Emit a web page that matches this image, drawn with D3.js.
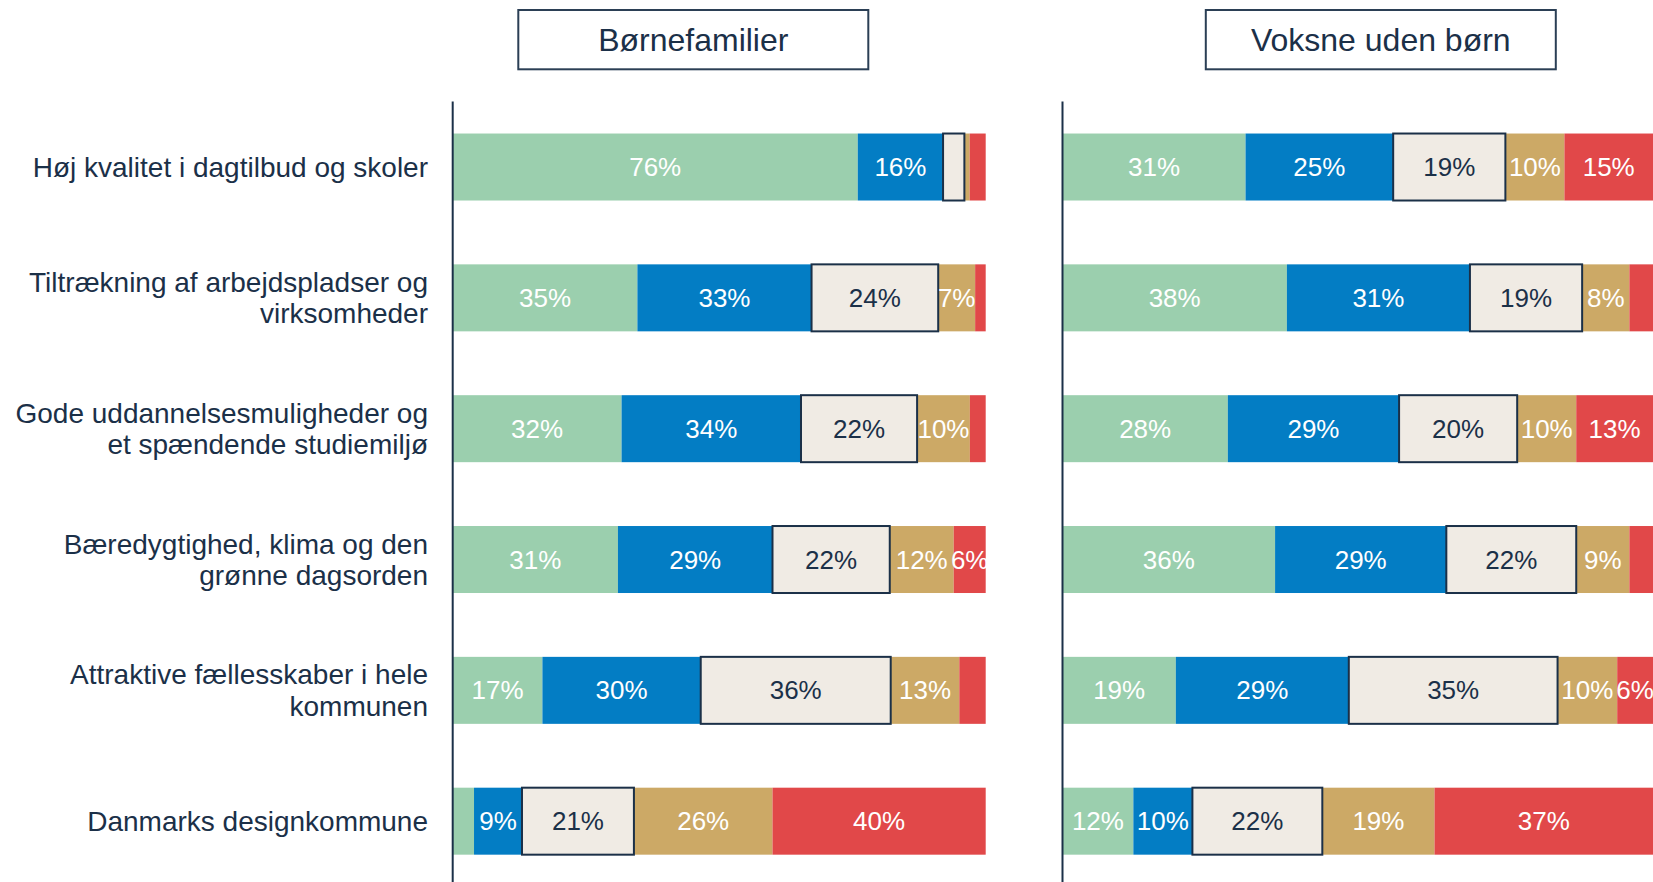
<!DOCTYPE html>
<html>
<head>
<meta charset="utf-8">
<script src="https://cdn.jsdelivr.net/npm/d3@7"></script>
<style>
    html, body { margin: 0; padding: 0; background: #fff; }
    svg { display: block; font-family: "Liberation Sans", Arial, sans-serif; }
</style>
</head>
<body>
<svg id="chart"></svg>
<script>
// categories (rows), top to bottom
const categories = [
    "Høj kvalitet i dagtilbud og skoler",
    "Tiltrækning af arbejdspladser og\nvirksomheder",
    "Gode uddannelsesmuligheder og\net spændende studiemiljø",
    "Bæredygtighed, klima og den\ngrønne dagsorden",
    "Attraktive fællesskaber i hele\nkommunen",
    "Danmarks designkommune"
];

// stacked series, left to right
const seriesKeys = ["s1", "s2", "s3", "s4", "s5"];

const panelTitles = ["Børnefamilier", "Voksne uden børn"];

// percentages per row, in seriesKeys order
const borneValues = [
    [76, 16, 4, 1, 3],
    [35, 33, 24, 7, 2],
    [32, 34, 22, 10, 3],
    [31, 29, 22, 12, 6],
    [17, 30, 36, 13, 5],
    [4, 9, 21, 26, 40]
];
const voksneValues = [
    [31, 25, 19, 10, 15],
    [38, 31, 19, 8, 4],
    [28, 29, 20, 10, 13],
    [36, 29, 22, 9, 4],
    [19, 29, 35, 10, 6],
    [12, 10, 22, 19, 37]
];

const config = {
    vw: 1653,
    vh: 882,
    navy: "#1b3048",
    colors: ["#9bcfae", "#037dc4", "#f0ebe4", "#cca966", "#e14849"],
    labelColors: ["#fff", "#fff", "#1b3048", "#fff", "#fff"],
    minLabel: 6
};

const panels = [
    { title: panelTitles[0], values: borneValues, x0: 452.7, x1: 985.7, titleX: 693.3 },
    { title: panelTitles[1], values: voksneValues, x0: 1062.5, x1: 1653, titleX: 1380.8 }
];

const svg = d3.select("#chart")
    .attr("width", config.vw)
    .attr("height", config.vh)
    .attr("viewBox", [0, 0, config.vw, config.vh]);

const yScale = d3.scaleBand()
    .domain(categories)
    .range([101.6, 886.6])
    .paddingInner(0.488)
    .paddingOuter(0.244);

// category labels
const catG = svg.append("g").attr("class", "categories");
categories.forEach(cat => {
    const lines = cat.split("\n");
    const cy = yScale(cat) + yScale.bandwidth() / 2;
    const lh = 31.6;
    const t = catG.append("text")
        .attr("text-anchor", "end")
        .attr("font-size", 28)
        .attr("fill", config.navy);
    lines.forEach((ln, i) => {
        t.append("tspan")
            .attr("x", 428)
            .attr("y", cy + (i - (lines.length - 1) / 2) * lh)
            .attr("dy", "0.35em")
            .text(ln);
    });
});

const renderPanel = (panel) => {
    const g = svg.append("g").attr("class", "panel");

    const xScale = d3.scaleLinear()
        .domain([0, 100])
        .range([panel.x0, panel.x1]);

    // 100% stacked: normalize each row to its own total
    const rows = panel.values.map((vals, i) => {
        const total = d3.sum(vals);
        let acc = 0;
        return vals.map((v, j) => {
            const start = acc;
            acc += v / total * 100;
            return { cat: categories[i], key: seriesKeys[j], idx: j, value: v, p0: start, p1: acc };
        });
    });
    const segs = rows.flat();

    g.selectAll("rect.seg")
        .data(segs)
        .join("rect")
        .attr("class", "seg")
        .attr("x", d => xScale(d.p0))
        .attr("y", d => yScale(d.cat))
        .attr("width", d => xScale(d.p1) - xScale(d.p0))
        .attr("height", yScale.bandwidth())
        .attr("fill", d => config.colors[d.idx])
        .attr("stroke", d => d.idx == 2 ? config.navy : "none")
        .attr("stroke-width", d => d.idx == 2 ? 2 : 0);

    // beige segments drawn on top so their border is not covered
    g.selectAll("rect.seg").filter(d => d.idx == 2).raise();

    g.selectAll("text.val")
        .data(segs.filter(d => d.value >= config.minLabel))
        .join("text")
        .attr("class", "val")
        .attr("x", d => xScale((d.p0 + d.p1) / 2))
        .attr("y", d => yScale(d.cat) + yScale.bandwidth() / 2)
        .attr("dy", "0.35em")
        .attr("text-anchor", "middle")
        .attr("font-size", 26)
        .attr("fill", d => config.labelColors[d.idx])
        .text(d => d.value + "%");

    // vertical axis line
    g.append("line")
        .attr("x1", xScale(0)).attr("x2", xScale(0))
        .attr("y1", yScale.range()[0]).attr("y2", config.vh)
        .attr("stroke", config.navy)
        .attr("stroke-width", 2);

    // title box
    const bw = 350, bh = 59.3;
    g.append("rect")
        .attr("x", panel.titleX - bw / 2)
        .attr("y", 10)
        .attr("width", bw)
        .attr("height", bh)
        .attr("fill", "#fff")
        .attr("stroke", "#2b3f55")
        .attr("stroke-width", 2);
    g.append("text")
        .attr("x", panel.titleX)
        .attr("y", 10 + bh / 2)
        .attr("dy", "0.35em")
        .attr("text-anchor", "middle")
        .attr("font-size", 32)
        .attr("fill", config.navy)
        .text(panel.title);
};

panels.forEach(renderPanel);
</script>
</body>
</html>
